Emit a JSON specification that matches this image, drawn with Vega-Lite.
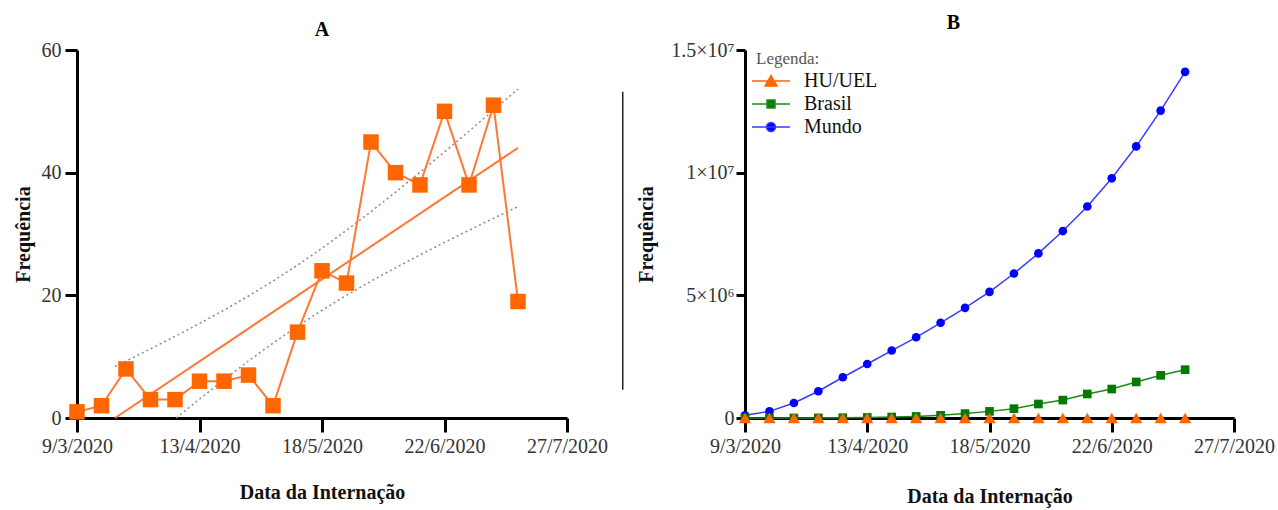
{
  "$schema": "https://vega.github.io/schema/vega-lite/v6.json",
  "background": "white",
  "padding": {"left": 13, "top": 13, "right": 5, "bottom": 5},
  "config": {
    "font": "Liberation Serif",
    "view": {"stroke": null},
    "axis": {
      "domainColor": "black", "domainWidth": 3, "tickColor": "black", "tickWidth": 3, "tickSize": 12,
      "labelFont": "Liberation Serif", "labelFontSize": 20, "labelColor": "#333", "labelPadding": 4,
      "titleFont": "Liberation Serif", "titleFontSize": 20, "titleFontWeight": "bold", "titleColor": "#111",
      "grid": false, "labelFlush": false
    },
    "legend": {"labelFont": "Liberation Serif", "titleFont": "Liberation Serif", "labelFontSize": 20, "labelColor": "#111"},
    "title": {"font": "Liberation Serif", "fontSize": 20, "fontWeight": "bold", "color": "black"}
  },
  "datasets": {
    "hu": [
      {"date": "2020-03-09", "value": 1}, {"date": "2020-03-16", "value": 2}, {"date": "2020-03-23", "value": 8},
      {"date": "2020-03-30", "value": 3}, {"date": "2020-04-06", "value": 3}, {"date": "2020-04-13", "value": 6},
      {"date": "2020-04-20", "value": 6}, {"date": "2020-04-27", "value": 7}, {"date": "2020-05-04", "value": 2},
      {"date": "2020-05-11", "value": 14}, {"date": "2020-05-18", "value": 24}, {"date": "2020-05-25", "value": 22},
      {"date": "2020-06-01", "value": 45}, {"date": "2020-06-08", "value": 40}, {"date": "2020-06-15", "value": 38},
      {"date": "2020-06-22", "value": 50}, {"date": "2020-06-29", "value": 38}, {"date": "2020-07-06", "value": 51},
      {"date": "2020-07-13", "value": 19}
    ],
    "fit": [
      {"date": "2020-03-19T20:24:00Z", "value": 0},
      {"date": "2020-07-13", "value": 44.04}
    ],
    "band": [
      {"date": "2020-03-19T20:24:00Z", "bound": "upper", "value": 8.40},
      {"date": "2020-03-23", "bound": "upper", "value": 9.28},
      {"date": "2020-03-30", "bound": "upper", "value": 11.27},
      {"date": "2020-04-06", "bound": "upper", "value": 13.30},
      {"date": "2020-04-13", "bound": "upper", "value": 15.40},
      {"date": "2020-04-20", "bound": "upper", "value": 17.59},
      {"date": "2020-04-27", "bound": "upper", "value": 19.89},
      {"date": "2020-05-04", "bound": "upper", "value": 22.33},
      {"date": "2020-05-11", "bound": "upper", "value": 24.92},
      {"date": "2020-05-18", "bound": "upper", "value": 27.68},
      {"date": "2020-05-25", "bound": "upper", "value": 30.60},
      {"date": "2020-06-01", "bound": "upper", "value": 33.65},
      {"date": "2020-06-08", "bound": "upper", "value": 36.82},
      {"date": "2020-06-15", "bound": "upper", "value": 40.07},
      {"date": "2020-06-22", "bound": "upper", "value": 43.39},
      {"date": "2020-06-29", "bound": "upper", "value": 46.76},
      {"date": "2020-07-06", "bound": "upper", "value": 50.18},
      {"date": "2020-07-13", "bound": "upper", "value": 53.62},
      {"date": "2020-04-06T08:24:00Z", "bound": "lower", "value": 0},
      {"date": "2020-04-13", "bound": "lower", "value": 3.08},
      {"date": "2020-04-20", "bound": "lower", "value": 6.24},
      {"date": "2020-04-27", "bound": "lower", "value": 9.30},
      {"date": "2020-05-04", "bound": "lower", "value": 12.21},
      {"date": "2020-05-11", "bound": "lower", "value": 14.97},
      {"date": "2020-05-18", "bound": "lower", "value": 17.57},
      {"date": "2020-05-25", "bound": "lower", "value": 20.00},
      {"date": "2020-06-01", "bound": "lower", "value": 22.30},
      {"date": "2020-06-08", "bound": "lower", "value": 24.49},
      {"date": "2020-06-15", "bound": "lower", "value": 26.59},
      {"date": "2020-06-22", "bound": "lower", "value": 28.63},
      {"date": "2020-06-29", "bound": "lower", "value": 30.61},
      {"date": "2020-07-06", "bound": "lower", "value": 32.56},
      {"date": "2020-07-13", "bound": "lower", "value": 34.47}
    ],
    "sep": [
      {"date": "2020-02-03", "top": 13300000, "bottom": 1150000}
    ],
    "b": [
      {"date": "2020-03-09", "series": "Mundo", "value": 110000},
      {"date": "2020-03-16", "series": "Mundo", "value": 270000},
      {"date": "2020-03-23", "series": "Mundo", "value": 610000},
      {"date": "2020-03-30", "series": "Mundo", "value": 1090000},
      {"date": "2020-04-06", "series": "Mundo", "value": 1660000},
      {"date": "2020-04-13", "series": "Mundo", "value": 2200000},
      {"date": "2020-04-20", "series": "Mundo", "value": 2750000},
      {"date": "2020-04-27", "series": "Mundo", "value": 3290000},
      {"date": "2020-05-04", "series": "Mundo", "value": 3880000},
      {"date": "2020-05-11", "series": "Mundo", "value": 4490000},
      {"date": "2020-05-18", "series": "Mundo", "value": 5140000},
      {"date": "2020-05-25", "series": "Mundo", "value": 5890000},
      {"date": "2020-06-01", "series": "Mundo", "value": 6710000},
      {"date": "2020-06-08", "series": "Mundo", "value": 7620000},
      {"date": "2020-06-15", "series": "Mundo", "value": 8620000},
      {"date": "2020-06-22", "series": "Mundo", "value": 9770000},
      {"date": "2020-06-29", "series": "Mundo", "value": 11070000},
      {"date": "2020-07-06", "series": "Mundo", "value": 12530000},
      {"date": "2020-07-13", "series": "Mundo", "value": 14110000},
      {"date": "2020-03-09", "series": "Brasil", "value": 25},
      {"date": "2020-03-16", "series": "Brasil", "value": 200},
      {"date": "2020-03-23", "series": "Brasil", "value": 2000},
      {"date": "2020-03-30", "series": "Brasil", "value": 5000},
      {"date": "2020-04-06", "series": "Brasil", "value": 12000},
      {"date": "2020-04-13", "series": "Brasil", "value": 23000},
      {"date": "2020-04-20", "series": "Brasil", "value": 40000},
      {"date": "2020-04-27", "series": "Brasil", "value": 65000},
      {"date": "2020-05-04", "series": "Brasil", "value": 110000},
      {"date": "2020-05-11", "series": "Brasil", "value": 180000},
      {"date": "2020-05-18", "series": "Brasil", "value": 270000},
      {"date": "2020-05-25", "series": "Brasil", "value": 380000},
      {"date": "2020-06-01", "series": "Brasil", "value": 570000},
      {"date": "2020-06-08", "series": "Brasil", "value": 730000},
      {"date": "2020-06-15", "series": "Brasil", "value": 980000},
      {"date": "2020-06-22", "series": "Brasil", "value": 1180000},
      {"date": "2020-06-29", "series": "Brasil", "value": 1470000},
      {"date": "2020-07-06", "series": "Brasil", "value": 1740000},
      {"date": "2020-07-13", "series": "Brasil", "value": 1970000},
      {"date": "2020-03-09", "series": "HU/UEL", "value": 1},
      {"date": "2020-03-16", "series": "HU/UEL", "value": 2},
      {"date": "2020-03-23", "series": "HU/UEL", "value": 8},
      {"date": "2020-03-30", "series": "HU/UEL", "value": 3},
      {"date": "2020-04-06", "series": "HU/UEL", "value": 3},
      {"date": "2020-04-13", "series": "HU/UEL", "value": 6},
      {"date": "2020-04-20", "series": "HU/UEL", "value": 6},
      {"date": "2020-04-27", "series": "HU/UEL", "value": 7},
      {"date": "2020-05-04", "series": "HU/UEL", "value": 2},
      {"date": "2020-05-11", "series": "HU/UEL", "value": 14},
      {"date": "2020-05-18", "series": "HU/UEL", "value": 24},
      {"date": "2020-05-25", "series": "HU/UEL", "value": 22},
      {"date": "2020-06-01", "series": "HU/UEL", "value": 45},
      {"date": "2020-06-08", "series": "HU/UEL", "value": 40},
      {"date": "2020-06-15", "series": "HU/UEL", "value": 38},
      {"date": "2020-06-22", "series": "HU/UEL", "value": 50},
      {"date": "2020-06-29", "series": "HU/UEL", "value": 38},
      {"date": "2020-07-06", "series": "HU/UEL", "value": 51},
      {"date": "2020-07-13", "series": "HU/UEL", "value": 19}
    ]
  },
  "bounds": "flush",
  "spacing": 178,
  "hconcat": [
    {
      "width": 490,
      "height": 368,
      "title": {"text": "A", "offset": 0},
      "encoding": {
        "x": {
          "field": "date", "type": "temporal",
          "scale": {"type": "utc", "domain": [{"year": 2020, "month": 3, "date": 9, "utc": true}, {"year": 2020, "month": 7, "date": 27, "utc": true}]},
          "axis": {
            "values": [
              {"year": 2020, "month": 3, "date": 9, "utc": true},
              {"year": 2020, "month": 4, "date": 13, "utc": true},
              {"year": 2020, "month": 5, "date": 18, "utc": true},
              {"year": 2020, "month": 6, "date": 22, "utc": true},
              {"year": 2020, "month": 7, "date": 27, "utc": true}
            ],
            "format": "%-d/%-m/%Y", "tickSize": 14, "labelPadding": 4, "titlePadding": 26
          },
          "title": "Data da Internação"
        },
        "y": {
          "field": "value", "type": "quantitative",
          "scale": {"domain": [0, 60], "nice": false},
          "axis": {"values": [0, 20, 40, 60], "titlePadding": 8},
          "title": "Frequência"
        }
      },
      "layer": [
        {
          "data": {"name": "band"},
          "mark": {"type": "line", "color": "#8a8a8a", "strokeDash": [2, 3], "strokeWidth": 1.5},
          "encoding": {"detail": {"field": "bound"}}
        },
        {
          "data": {"name": "fit"},
          "mark": {"type": "line", "color": "#ff7733", "strokeWidth": 2},
          "encoding": {}
        },
        {
          "data": {"name": "hu"},
          "mark": {"type": "line", "color": "#ff7733", "strokeWidth": 2},
          "encoding": {}
        },
        {
          "data": {"name": "hu"},
          "mark": {"type": "square", "color": "#ff6600", "filled": true, "opacity": 1, "size": 240},
          "encoding": {}
        }
      ]
    },
    {
      "width": 489,
      "height": 368,
      "title": {"text": "B", "offset": 7, "dx": -36},
      "encoding": {
        "x": {
          "field": "date", "type": "temporal",
          "scale": {"type": "utc", "domain": [{"year": 2020, "month": 3, "date": 9, "utc": true}, {"year": 2020, "month": 7, "date": 27, "utc": true}]},
          "axis": {
            "values": [
              {"year": 2020, "month": 3, "date": 9, "utc": true},
              {"year": 2020, "month": 4, "date": 13, "utc": true},
              {"year": 2020, "month": 5, "date": 18, "utc": true},
              {"year": 2020, "month": 6, "date": 22, "utc": true},
              {"year": 2020, "month": 7, "date": 27, "utc": true}
            ],
            "format": "%-d/%-m/%Y", "tickSize": 14, "labelPadding": 4, "titlePadding": 30
          },
          "title": "Data da Internação"
        },
        "y": {
          "field": "value", "type": "quantitative",
          "scale": {"domain": [0, 15000000], "nice": false},
          "axis": {
            "values": [0, 5000000, 10000000, 15000000],
            "labelExpr": "datum.value == 0 ? '0' : datum.value == 5000000 ? '5×10⁶' : datum.value == 10000000 ? '1×10⁷' : '1.5×10⁷'",
            "tickSize": 9, "labelPadding": 2,
            "titlePadding": 14
          },
          "title": "Frequência"
        }
      },
      "layer": [
        {
          "data": {"name": "sep"},
          "mark": {"type": "rule", "color": "#222", "strokeWidth": 1.5},
          "encoding": {
            "y": {"field": "top", "type": "quantitative"},
            "y2": {"field": "bottom"}
          }
        },
        {
          "data": {"name": "b"},
          "transform": [{"filter": "datum.series == 'Brasil'"}],
          "mark": {"type": "line", "strokeWidth": 1.5, "color": "#1a8a1a"},
          "encoding": {}
        },
        {
          "data": {"name": "b"},
          "transform": [{"filter": "datum.series == 'Mundo'"}],
          "mark": {"type": "line", "strokeWidth": 1.5, "color": "#3a3aff"},
          "encoding": {}
        },
        {
          "data": {"name": "b"},
          "transform": [{"filter": "datum.series == 'Mundo'"}],
          "mark": {"type": "circle", "color": "#0000ff", "opacity": 1, "size": 75},
          "encoding": {}
        },
        {
          "data": {"name": "b"},
          "transform": [{"filter": "datum.series == 'Brasil'"}],
          "mark": {"type": "square", "color": "#007a00", "opacity": 1, "size": 75},
          "encoding": {}
        },
        {
          "data": {"name": "b"},
          "transform": [{"filter": "datum.series == 'HU/UEL'"}],
          "mark": {"type": "point", "shape": "triangle-up", "filled": true, "color": "#ff6600", "opacity": 1, "size": 150},
          "encoding": {}
        },
        {
          "data": {"name": "b"},
          "transform": [{"filter": "false"}],
          "mark": {"type": "point", "filled": true, "opacity": 1, "strokeWidth": 1.5},
          "encoding": {
            "color": {
              "field": "series", "type": "nominal",
              "scale": {"domain": ["HU/UEL", "Brasil", "Mundo"], "range": ["#ff6600", "#007a00", "#0000ff"]},
              "legend": {
                "title": "Legenda:", "orient": "none", "legendX": 679, "legendY": 1,
                "titleFont": "Liberation Serif", "titleFontSize": 17, "titleFontWeight": "normal", "titleColor": "#555", "titlePadding": 3,
                "labelFont": "Liberation Serif", "labelFontSize": 20, "labelColor": "#111", "labelOffset": 23,
                "symbolSize": 100, "symbolOffset": 5, "rowPadding": 3, "symbolStrokeWidth": 1.5
              }
            },
            "stroke": {
              "field": "series", "type": "nominal",
              "scale": {"domain": ["HU/UEL", "Brasil", "Mundo"], "range": ["#ff6600", "#1a8a1a", "#3a3aff"]}
            },
            "shape": {
              "field": "series", "type": "nominal",
              "scale": {
                "domain": ["HU/UEL", "Brasil", "Mundo"],
                "range": [
                  "M-3.8,0H3.8M-1.2,1L0,-1.1L1.2,1Z",
                  "M-3.8,0H3.8M-0.8,-0.8H0.8V0.8H-0.8Z",
                  "M-3.8,0H3.8M-0.9,0A0.9,0.9,0,1,0,0.9,0A0.9,0.9,0,1,0,-0.9,0Z"
                ]
              }
            }
          }
        }
      ]
    }
  ]
}
